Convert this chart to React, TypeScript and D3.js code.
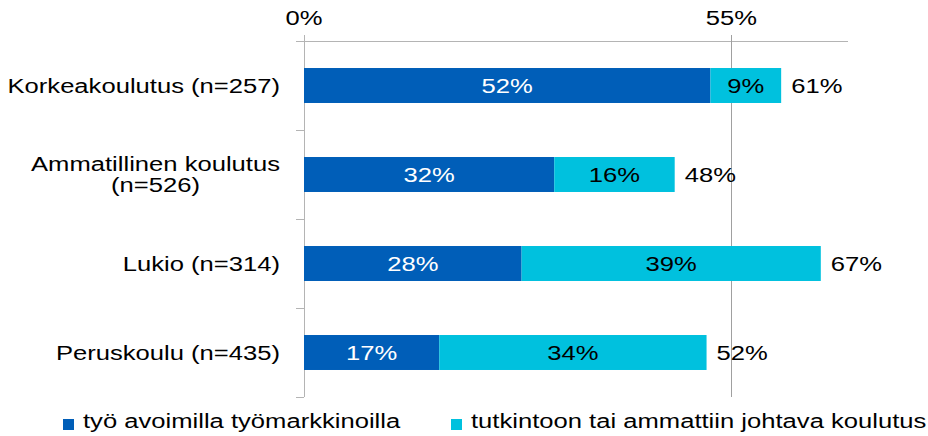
import React from "react";
import * as d3 from "d3";

const WIDTH = 928;
const HEIGHT = 436;
const FONT = '"Liberation Sans", Arial, sans-serif';
const FONT_SIZE = 20;
const SX = 1.28; // the reference text is stretched horizontally

const categories = ["Korkeakoulutus", "Ammatillinen", "Lukio", "Peruskoulu"];
const categoryLines = [
  ["Korkeakoulutus (n=257)"],
  ["Ammatillinen koulutus", "(n=526)"],
  ["Lukio (n=314)"],
  ["Peruskoulu (n=435)"],
];
const tyo = [52.3, 32.2, 28.0, 17.4];
const tutkinto = [9.1, 15.5, 38.5, 34.4];
const seriesNames = ["työ avoimilla työmarkkinoilla", "tutkintoon tai ammattiin johtava koulutus"];
const seriesColors = ["#005EB8", "#00C1DE"];
const xTicks = [0, 55];

const X0 = 304;
const X1 = 848;
const Y0 = 41;
const Y1 = 397;
const AXIS = "#B4B4B4";

let ctx: CanvasRenderingContext2D | null = null;
const measure = (s: string) => {
  if (!ctx) ctx = document.createElement("canvas").getContext("2d");
  if (!ctx) return s.length * FONT_SIZE * 0.5;
  ctx.font = `${FONT_SIZE}px ${FONT}`;
  return ctx.measureText(s).width * SX;
};

const T = ({ x, y, anchor = "start", fill = "#000", children }: any) => (
  <text
    transform={`translate(${x},${y}) scale(${SX},1)`}
    textAnchor={anchor}
    fill={fill}
    fontFamily={FONT}
    fontSize={FONT_SIZE}
  >
    {children}
  </text>
);

export default function App() {
  const x = d3.scaleLinear().domain([0, 70]).range([X0, X1]);
  const y = d3
    .scaleBand<string>()
    .domain(categories)
    .range([Y0, Y1])
    .paddingInner(0.607)
    .paddingOuter(0.3035);
  const step = y.step();
  const bw = y.bandwidth();

  const stack = d3.stack<any>().keys(["a", "b"])(
    categories.map((c, i) => ({ cat: c, a: tyo[i], b: tutkinto[i] }))
  );

  const labelRight = 280;

  return (
    <svg
      width={WIDTH}
      height={HEIGHT}
      style={{ position: "absolute", left: 0, top: 0, background: "#fff" }}
    >
      {/* top axis */}
      <line x1={X0 - 8} x2={X1} y1={Y0 + 0.5} y2={Y0 + 0.5} stroke={AXIS} />
      {xTicks.map((t) => (
        <g key={t}>
          <line
            x1={Math.round(x(t)) + 0.5}
            x2={Math.round(x(t)) + 0.5}
            y1={Y0 - 6}
            y2={Y1}
            stroke={t === 0 ? AXIS : "#A0A0A0"}
          />
          <T x={x(t)} y={25} anchor="middle">
            {t}%
          </T>
        </g>
      ))}
      {/* category boundary ticks */}
      {d3.range(categories.length + 1).map((i) => (
        <line
          key={i}
          x1={X0 - 8}
          x2={X0}
          y1={Math.round(Y0 + i * step) + 0.5}
          y2={Math.round(Y0 + i * step) + 0.5}
          stroke={AXIS}
        />
      ))}

      {/* bars */}
      {stack.map((s, si) =>
        s.map((d, i) => {
          const cat = categories[i];
          const x0 = x(d[0]);
          const x1 = x(d[1]);
          return (
            <g key={`${si}-${i}`}>
              <rect x={x0} y={y(cat)} width={x1 - x0} height={bw} fill={seriesColors[si]} />
              <T
                x={(x0 + x1) / 2}
                y={(y(cat) as number) + bw / 2 + 7}
                anchor="middle"
                fill={si === 0 ? "#fff" : "#000"}
              >
                {Math.round(d[1] - d[0])}%
              </T>
            </g>
          );
        })
      )}

      {/* totals */}
      {categories.map((c, i) => (
        <T key={c} x={x(tyo[i] + tutkinto[i]) + 10} y={(y(c) as number) + bw / 2 + 7}>
          {Math.round(tyo[i] + tutkinto[i])}%
        </T>
      ))}

      {/* category labels */}
      {categories.map((c, i) => {
        const lines = categoryLines[i];
        const cy = (y(c) as number) + bw / 2;
        const maxW = Math.max(...lines.map(measure));
        const cx = labelRight - maxW / 2;
        const lh = 21.5;
        return lines.map((ln, j) => (
          <T
            key={`${c}-${j}`}
            x={lines.length === 1 ? labelRight : cx}
            y={cy + 7 + (j - (lines.length - 1) / 2) * lh}
            anchor={lines.length === 1 ? "end" : "middle"}
          >
            {ln}
          </T>
        ));
      })}

      {/* legend */}
      {seriesNames.map((n, i) => {
        const lx = i === 0 ? 63 : 451;
        return (
          <g key={n}>
            <rect x={lx} y={419} width={11} height={11} fill={seriesColors[i]} />
            <T x={lx + 20} y={428}>
              {n}
            </T>
          </g>
        );
      })}
    </svg>
  );
}
